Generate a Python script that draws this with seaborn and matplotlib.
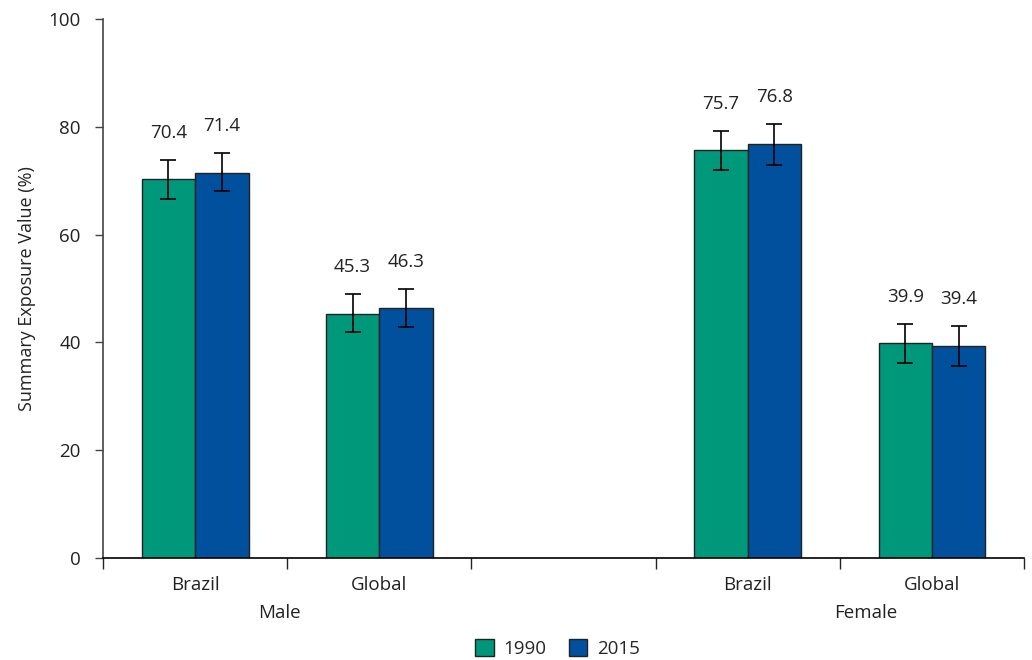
import numpy as np
import pandas as pd
import matplotlib
matplotlib.use("Agg")
import matplotlib.pyplot as plt
import seaborn as sns

# Chart values
groups = ["Male Brazil", "Male Global", "", "Female Brazil", "Female Global"]
tick_labels = ["Brazil", "Global", "", "Brazil", "Global"]
data_groups = ["Male Brazil", "Male Global", "Female Brazil", "Female Global"]
years = ["1990", "2015"]
val_1990 = [70.4, 45.3, 75.7, 39.9]
val_2015 = [71.4, 46.3, 76.8, 39.4]
low_1990 = [66.7, 41.9, 72.0, 36.2]
high_1990 = [73.8, 49.0, 79.2, 43.4]
low_2015 = [68.0, 42.9, 72.9, 35.6]
high_2015 = [75.2, 49.9, 80.6, 43.1]

colors = ["#00987A", "#00509E"]

df = pd.DataFrame({
    "group": data_groups * 2,
    "year": ["1990"] * 4 + ["2015"] * 4,
    "value": val_1990 + val_2015,
    "low": low_1990 + low_2015,
    "high": high_1990 + high_2015,
})

sns.set_style("white")
plt.rcParams["font.family"] = ["Open Sans", "DejaVu Sans"]

fig = plt.figure(figsize=(10.32, 6.6), dpi=100)
ax = fig.add_axes([0.0998, 0.1545, 0.8925, 0.8167])

sns.barplot(data=df, x="group", y="value", hue="year", order=groups,
            hue_order=years, palette=colors, saturation=1, width=0.58, ax=ax,
            edgecolor="#222222", linewidth=1.0, legend=False, errorbar=None)

# error bars and value labels, positioned from the drawn bars
for container, year in zip(ax.containers, years):
    sub = df[df["year"] == year].set_index("group")
    for bar, g in zip(container.patches, data_groups):
        xc = bar.get_x() + bar.get_width() / 2
        v = sub.loc[g, "value"]
        lo = sub.loc[g, "low"]
        hi = sub.loc[g, "high"]
        ax.errorbar(xc, v, yerr=[[v - lo], [hi - v]], fmt="none",
                    ecolor="black", elinewidth=1.2, capsize=6, capthick=1.2)
        ax.annotate(f"{v:.1f}", (xc, hi), xytext=(0, 13),
                    textcoords="offset points", ha="center", va="bottom",
                    fontsize=13.5, color="#222222")

ax.set_ylim(0, 100)
ax.set_xlim(-0.5, 4.5)
ax.set_yticks([0, 20, 40, 60, 80, 100])
ax.tick_params(axis="y", labelsize=13.5, length=6, width=1, colors="#444444",
               labelcolor="#222222", left=True, direction="out", pad=10)

# major ticks at slot boundaries, labels on minor ticks
ax.set_xticks(np.arange(-0.5, 5.0, 1.0))
ax.set_xticklabels([])
ax.tick_params(axis="x", which="major", length=8, width=1, direction="out",
               bottom=True, colors="#222222")
ax.set_xticks(np.arange(5), minor=True)
ax.set_xticklabels(tick_labels, minor=True)
ax.tick_params(axis="x", which="minor", length=0, labelsize=13.5, pad=13,
               labelcolor="#222222")

ax.text(0.46, -0.085, "Male", transform=ax.get_xaxis_transform(),
        ha="center", va="top", fontsize=13.5, color="#222222")
ax.text(3.64, -0.085, "Female", transform=ax.get_xaxis_transform(),
        ha="center", va="top", fontsize=13.5, color="#222222")

ax.set_xlabel("")
ax.set_ylabel("Summary Exposure Value (%)", fontsize=13, color="#222222",
              labelpad=9)

for s in ["top", "right"]:
    ax.spines[s].set_visible(False)
ax.spines["left"].set_color("#444444")
ax.spines["bottom"].set_color("black")
ax.spines["left"].set_linewidth(1.2)
ax.spines["bottom"].set_linewidth(1.2)

handles = [plt.Rectangle((0, 0), 1, 1, facecolor=c, edgecolor="#222222")
           for c in colors]
fig.legend(handles, years, loc="lower center", ncol=2, frameon=False,
           fontsize=13.5, bbox_to_anchor=(0.54, -0.022), handlelength=1.0,
           handleheight=1.0, columnspacing=1.2, handletextpad=0.5)

fig.savefig("out.png", dpi=100)
